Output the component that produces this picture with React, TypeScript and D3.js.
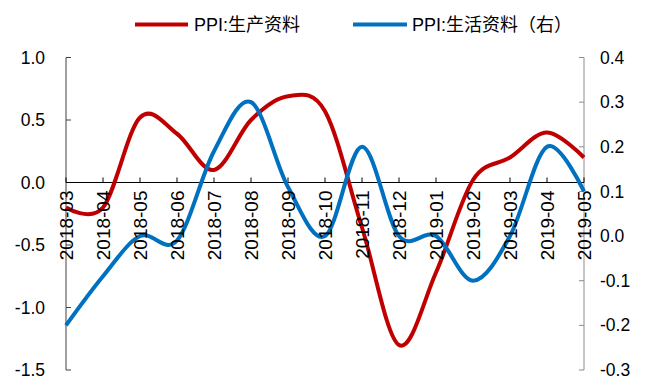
import React from "react";
import * as d3 from "d3";

const categories = ["2018-03","2018-04","2018-05","2018-06","2018-07","2018-08","2018-09","2018-10","2018-11","2018-12","2019-01","2019-02","2019-03","2019-04","2019-05"];
const producerGoods = [-0.2, -0.2, 0.52, 0.39, 0.1, 0.5, 0.69, 0.57, -0.36, -1.3, -0.72, 0.02, 0.2, 0.4, 0.2];
const consumerGoods = [-0.2, -0.09, 0.0, -0.01, 0.19, 0.3, 0.11, 0.0, 0.2, 0.0, 0.0, -0.1, 0.0, 0.2, 0.1];
const leftTicks = [1.0, 0.5, 0.0, -0.5, -1.0, -1.5];
const rightTicks = [0.4, 0.3, 0.2, 0.1, 0.0, -0.1, -0.2, -0.3];
const seriesNames = ["PPI:生产资料", "PPI:生活资料（右）"];

const W = 646, H = 381;
const L = 66, R = 584, T = 57.5, B = 370;
const RED = "#C00000", BLUE = "#0070C0";
const FONT = "'Liberation Sans', Arial, sans-serif";
const CJK = "'Liberation Sans', 'Noto Sans CJK SC', sans-serif";

export default function App() {
  const x = d3.scalePoint<string>().domain(categories).range([L, R]);
  const yL = d3.scaleLinear().domain([-1.5, 1.0]).range([B, T]);
  const yR = d3.scaleLinear().domain([-0.3, 0.4]).range([B, T]);
  const lineL = d3.line<number>().x((_, i) => x(categories[i])!).y(d => yL(d)).curve(d3.curveCardinal.tension(0));
  const lineR = d3.line<number>().x((_, i) => x(categories[i])!).y(d => yR(d)).curve(d3.curveCardinal.tension(0));
  const y0 = yL(0);
  return (
    <svg width={W} height={H} style={{ position: "absolute", left: 0, top: 0, background: "#fff" }}>
      {/* left axis */}
      <line x1={L} x2={L} y1={T} y2={B} stroke="#404040" strokeWidth={1} />
      {leftTicks.map(t => (
        <g key={"l" + t}>
          <line x1={L} x2={L + 5} y1={yL(t)} y2={yL(t)} stroke="#404040" />
          <text x={45} y={yL(t)} dy="0.35em" textAnchor="end" fontFamily={FONT} fontSize={17.5} fill="#000">{t.toFixed(1)}</text>
        </g>
      ))}
      {/* right axis */}
      <line x1={R} x2={R} y1={T} y2={B} stroke="#8c8c8c" strokeWidth={1} />
      {rightTicks.map(t => (
        <g key={"r" + t}>
          <line x1={R - 5} x2={R} y1={yR(t)} y2={yR(t)} stroke="#8c8c8c" />
          <text x={600} y={yR(t)} dy="0.35em" textAnchor="start" fontFamily={FONT} fontSize={17.5} fill="#000">{t.toFixed(1)}</text>
        </g>
      ))}
      {/* category axis at zero */}
      <line x1={L} x2={R} y1={y0} y2={y0} stroke="#000" strokeWidth={1} />
      {categories.map(c => (
        <g key={c}>
          <line x1={x(c)!} x2={x(c)!} y1={y0} y2={y0 - 5} stroke="#000" />
        </g>
      ))}
      {/* series */}
      <path d={lineL(producerGoods)!} fill="none" stroke={RED} strokeWidth={4} />
      <path d={lineR(consumerGoods)!} fill="none" stroke={BLUE} strokeWidth={4} />
      {categories.map(c => (
        <text key={"t" + c} transform={`translate(${x(c)},${y0 + 8}) rotate(-90)`} dy="0.36em" textAnchor="end" fontFamily={FONT} fontSize={19} fill="#000">{c}</text>
      ))}
      {/* legend */}
      <line x1={135} x2={188} y1={24.5} y2={24.5} stroke={RED} strokeWidth={4} />
      <text x={194} y={24.5} dy="0.36em" fontFamily={CJK} fontSize={18} fill="#000">{seriesNames[0]}</text>
      <line x1={353} x2={407} y1={24.5} y2={24.5} stroke={BLUE} strokeWidth={4} />
      <text x={412} y={24.5} dy="0.36em" fontFamily={CJK} fontSize={18} fill="#000">{seriesNames[1]}</text>
    </svg>
  );
}
